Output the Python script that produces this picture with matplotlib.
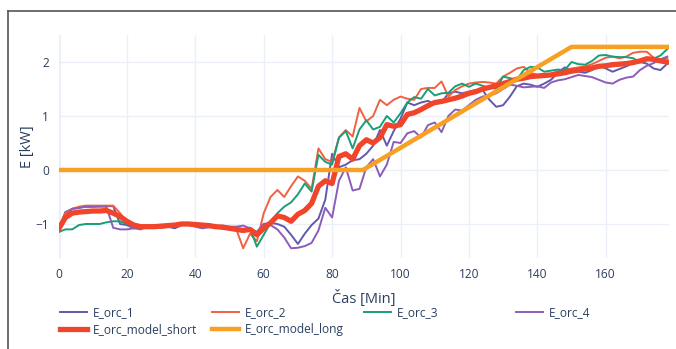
import numpy as np
import matplotlib.pyplot as plt
from matplotlib.lines import Line2D

# time axis, one reading every 2 min
t = np.arange(0, 180, 2)

e_orc_1 = [-1.10, -0.78, -0.72, -0.70, -0.68, -0.68, -0.67, -0.67, -0.67, -1.00,
           -1.02, -1.08, -1.06, -1.04, -1.06, -1.03, -1.05, -1.08, -1.02, -1.00,
           -1.02, -1.04, -1.05, -1.07, -1.08, -1.07, -1.09, -1.10, -1.08, -1.15,
           -1.00, -0.98, -1.00, -1.05, -1.20, -1.37, -1.18, -1.02, -0.90, -0.55,
           0.30, 0.05, 0.10, 0.18, 0.20, 0.30, 0.45, 0.74, 0.45, 0.72,
           0.95, 1.25, 1.20, 1.25, 1.28, 1.22, 1.25, 1.42, 1.45, 1.42,
           1.45, 1.48, 1.48, 1.30, 1.17, 1.20, 1.36, 1.55, 1.60, 1.58,
           1.54, 1.60, 1.67, 1.80, 1.90, 1.85, 1.82, 1.80, 1.85, 1.94,
           1.88, 1.82, 1.87, 1.92, 1.98, 2.00, 1.97, 1.88, 1.85, 1.97]

e_orc_2 = [-1.10, -0.80, -0.72, -0.68, -0.66, -0.66, -0.66, -0.66, -0.66, -0.80,
           -0.97, -1.04, -1.05, -1.05, -1.04, -1.03, -1.05, -1.02, -1.00, -0.98,
           -1.02, -1.04, -1.05, -1.05, -1.07, -1.08, -1.10, -1.45, -1.18, -1.32,
           -0.80, -0.50, -0.37, -0.50, -0.30, -0.12, -0.20, -0.35, 0.40, 0.20,
           0.15, 0.60, 0.74, 0.62, 1.15, 0.90, 1.00, 1.30, 1.20, 1.30,
           1.36, 1.32, 1.30, 1.50, 1.52, 1.52, 1.64, 1.36, 1.48, 1.55,
           1.60, 1.62, 1.63, 1.62, 1.60, 1.73, 1.80, 1.88, 1.91, 1.80,
           1.76, 1.73, 1.78, 1.83, 1.85, 1.88, 1.90, 1.92, 1.96, 2.02,
           2.08, 2.10, 2.07, 2.10, 2.17, 2.19, 2.19, 2.08, 2.04, 2.07]

e_orc_3 = [-1.15, -1.10, -1.10, -1.02, -1.00, -1.00, -1.00, -0.97, -0.95, -0.95,
           -1.00, -1.04, -1.05, -1.04, -1.03, -1.04, -1.02, -1.02, -1.00, -1.00,
           -1.02, -1.03, -1.05, -1.06, -1.08, -1.09, -1.10, -1.10, -1.08, -1.42,
           -1.20, -0.98, -0.80, -0.68, -0.60, -0.45, -0.25, -0.40, 0.28, 0.15,
           0.10, 0.60, 0.72, 0.40, 0.75, 0.92, 0.75, 0.80, 1.00, 0.88,
           1.05, 1.25, 1.35, 1.32, 1.50, 1.38, 1.42, 1.43, 1.55, 1.60,
           1.54, 1.60, 1.56, 1.52, 1.51, 1.73, 1.70, 1.67, 1.85, 1.91,
           1.90, 1.82, 1.84, 1.86, 1.85, 2.00, 1.96, 1.95, 2.02, 2.12,
           2.13, 2.10, 2.09, 2.09, 2.07, 2.00, 2.03, 2.06, 2.12, 2.24]

e_orc_4 = [-1.10, -0.85, -0.72, -0.70, -0.68, -0.68, -0.68, -0.68, -1.07, -1.10,
           -1.10, -1.08, -1.10, -1.05, -1.05, -1.07, -1.05, -1.02, -1.00, -1.02,
           -1.05, -1.08, -1.06, -1.05, -1.03, -1.05, -1.05, -1.03, -1.08, -1.15,
           -1.00, -1.02, -1.10, -1.25, -1.45, -1.44, -1.41, -1.35, -1.12, -0.70,
           -0.88, -0.20, 0.05, -0.38, -0.35, 0.05, 0.20, -0.12, 0.10, 0.52,
           0.50, 0.68, 0.72, 0.60, 0.83, 0.88, 0.70, 1.00, 1.12, 1.10,
           1.20, 1.30, 1.36, 1.38, 1.42, 1.50, 1.58, 1.56, 1.53, 1.54,
           1.55, 1.52, 1.62, 1.66, 1.68, 1.72, 1.76, 1.74, 1.72, 1.67,
           1.62, 1.60, 1.67, 1.71, 1.73, 1.85, 1.93, 1.98, 2.05, 2.10]

e_model_short = [-1.10, -0.88, -0.80, -0.78, -0.77, -0.76, -0.76, -0.75, -0.80, -0.86,
                 -0.95, -1.02, -1.05, -1.05, -1.05, -1.04, -1.03, -1.02, -1.00, -1.00,
                 -1.01, -1.02, -1.03, -1.05, -1.06, -1.08, -1.10, -1.12, -1.10, -1.20,
                 -1.08, -0.98, -0.85, -0.88, -0.95, -0.82, -0.75, -0.62, -0.30, -0.20,
                 -0.25, 0.25, 0.30, 0.20, 0.45, 0.56, 0.50, 0.60, 0.84, 0.81,
                 0.84, 1.03, 1.06, 1.12, 1.19, 1.25, 1.27, 1.30, 1.33, 1.37,
                 1.42, 1.45, 1.50, 1.53, 1.56, 1.60, 1.64, 1.68, 1.70, 1.73,
                 1.74, 1.75, 1.76, 1.78, 1.80, 1.83, 1.85, 1.87, 1.89, 1.92,
                 1.93, 1.95, 1.96, 1.97, 1.99, 2.02, 2.06, 2.05, 2.02, 2.00]

# long model: flat, ramp, flat
t_long = [0, 89, 150, 178.5]
e_model_long = [0.0, 0.0, 2.28, 2.28]

plt.rcParams['font.family'] = ['Open Sans', 'DejaVu Sans']
txt = '#2a3f5f'
grid_c = '#ebf0f8'

fig = plt.figure(figsize=(6.76, 3.49), dpi=100)
ax = fig.add_axes([58.5 / 676, 1 - 258 / 349, (669 - 58.5) / 676, (258 - 35) / 349])

l1, = ax.plot(t, e_orc_1, color='#6259ae', lw=1.4, label='E_orc_1')
l2, = ax.plot(t, e_orc_2, color='#f2603f', lw=1.4, label='E_orc_2')
l3, = ax.plot(t, e_orc_3, color='#189e78', lw=1.4, label='E_orc_3')
l4, = ax.plot(t, e_orc_4, color='#8c5db8', lw=1.4, label='E_orc_4')
l5, = ax.plot(t, e_model_short, color='#f0452b', lw=3.8, label='E_orc_model_short')
l6, = ax.plot(t_long, e_model_long, color='#f7a023', lw=3.2, label='E_orc_model_long')

ax.set_xlim(0, 178.5)
ax.set_ylim(-1.63, 2.5)
ax.set_xticks([0, 20, 40, 60, 80, 100, 120, 140, 160])
ax.set_yticks([-1, 0, 1, 2])
ax.grid(True, color=grid_c, lw=1)
ax.set_axisbelow(True)
ax.axvline(0, color=grid_c, lw=2, zorder=0)
for s in ax.spines.values():
    s.set_visible(False)
ax.tick_params(length=0, labelsize=8.6, colors=txt)
ax.tick_params(axis='x', pad=7)
ax.tick_params(axis='y', pad=7)
ax.set_xlabel('Čas [Min]', fontsize=10.5, color=txt, labelpad=7)
ax.set_ylabel('E [kW]', fontsize=10.5, color=txt, labelpad=0)

# legend: one small legend per column so the columns are evenly spaced
cols = [[l1, l5], [l2, l6], [l3], [l4]]
for i, hs in enumerate(cols):
    x0 = (60 + 152 * i) / 676
    fig.legend(handles=hs, loc='upper left', bbox_to_anchor=(x0, 1 - 306 / 349),
               frameon=False, fontsize=8.6, handlelength=2.3, handletextpad=0.45,
               labelspacing=0.32, borderpad=0, borderaxespad=0, labelcolor=txt)

# frame lines around the panel
fig.add_artist(Line2D([8 / 676, 1], [1 - 11 / 349, 1 - 11 / 349], color='#555555', lw=1.2))
fig.add_artist(Line2D([8 / 676, 8 / 676], [0, 1 - 11 / 349], color='#555555', lw=1.2))

fig.savefig('out.png', dpi=100)
